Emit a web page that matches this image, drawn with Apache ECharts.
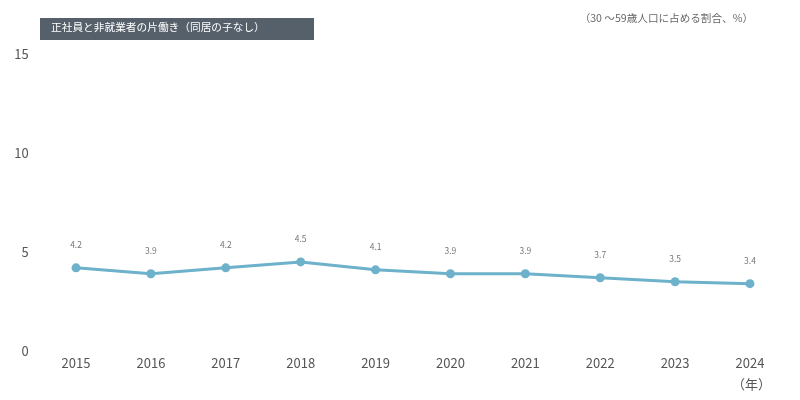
<!DOCTYPE html>
<html><head><meta charset="utf-8">
<script src="https://cdn.jsdelivr.net/npm/echarts@6/dist/echarts.min.js"></script>
<style>html,body{margin:0;padding:0;background:#fff}#c{width:800px;height:400px}</style>
</head><body><div id="c"></div>
<script>
const categories = ['2015','2016','2017','2018','2019','2020','2021','2022','2023','2024'];
const values = [4.2, 3.9, 4.2, 4.5, 4.1, 3.9, 3.9, 3.7, 3.5, 3.4];
const yTicks = [0, 5, 10, 15];
const titleText = '正社員と非就業者の片働き（同居の子なし）';
const unitText = '（30 〜59歳人口に占める割合、%）';
const xUnit = '（年）';
const font = '"Noto Sans CJK JP", "Noto Sans", sans-serif';
const chart = echarts.init(document.getElementById('c'));
chart.setOption({
  animation: false,
  textStyle: { fontFamily: font },
  grid: { left: 38.6, right: 12.6, top: 54, bottom: 49 },
  xAxis: {
    type: 'category', data: categories, boundaryGap: true,
    axisLine: { show: false }, axisTick: { show: false },
    axisLabel: { color: '#555', fontSize: 13, margin: 6, fontFamily: font }
  },
  yAxis: {
    type: 'value', min: yTicks[0], max: yTicks[yTicks.length-1], interval: 5,
    splitLine: { show: false }, axisLine: { show: false }, axisTick: { show: false },
    axisLabel: { color: '#555', fontSize: 13, margin: 10, fontFamily: font }
  },
  series: [{
    type: 'line', data: values, symbol: 'circle', symbolSize: 9,
    lineStyle: { color: '#6db1ca', width: 3 },
    itemStyle: { color: '#6db1ca' },
    label: { show: true, position: 'top', distance: 14, color: '#777', fontSize: 8.5, fontFamily: font,
      formatter: p => p.value.toFixed(1) }
  }],
  graphic: [
    { type: 'rect', left: 40, top: 18, shape: { width: 274, height: 22 }, style: { fill: '#56606b' } },
    { type: 'text', left: 51, top: 22, style: { text: titleText, fill: '#fff', font: '10.7px ' + font } },
    { type: 'text', right: 47, top: 13, style: { text: unitText, fill: '#666', font: '10.6px ' + font } },
    { type: 'text', left: 732, top: 378, style: { text: xUnit, fill: '#555', font: '13px ' + font } }
  ]
});
</script></body></html>
